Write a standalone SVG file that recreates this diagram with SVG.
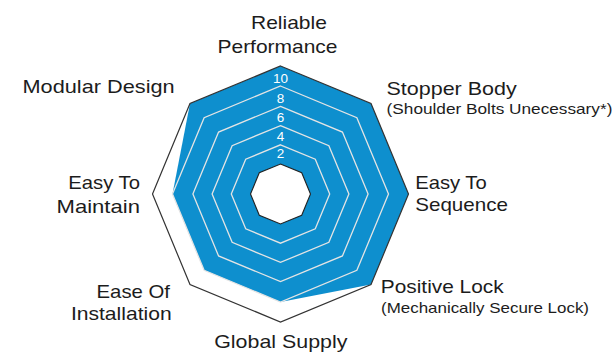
<svg xmlns="http://www.w3.org/2000/svg" width="614" height="354" viewBox="0 0 614 354">
<style>
.lbl{font-family:"Liberation Sans",Arial,sans-serif;font-size:19px;fill:#1c1c1c}
.sub{font-family:"Liberation Sans",Arial,sans-serif;font-size:14.5px;fill:#1c1c1c}
.num{font-family:"Liberation Sans",Arial,sans-serif;font-size:13.5px;fill:#ffffff;text-anchor:middle}
.ring{fill:none;stroke:#e4e4e4;stroke-width:1.3}
</style>
<rect width="614" height="354" fill="#ffffff"/>
<g id="chart">
<polygon id="data" fill="#0e8fce" points="280.5,66 371.01,103.49 408.5,194 371.01,284.51 280.5,302 204.13,270.37 172.5,194 189.99,103.49"/>
<polygon class="ring" points="280.5,144.8 315.29,159.21 329.7,194 315.29,228.79 280.5,243.2 245.71,228.79 231.3,194 245.71,159.21"/>
<polygon class="ring" points="280.5,125.6 328.87,145.63 348.9,194 328.87,242.37 280.5,262.4 232.13,242.37 212.1,194 232.13,145.63"/>
<polygon class="ring" points="280.5,106.4 342.44,132.06 368.1,194 342.44,255.94 280.5,281.6 218.56,255.94 192.9,194 218.56,132.06"/>
<polygon class="ring" points="280.5,86 356.87,117.63 388.5,194 356.87,270.37 280.5,302 204.13,270.37 172.5,194 204.13,117.63"/>
<polygon id="hole" fill="#ffffff" stroke="#222" stroke-width="1.1" points="280.5,164 301.71,172.79 310.5,194 301.71,215.21 280.5,224 259.29,215.21 250.5,194 259.29,172.79"/>
<polygon id="outer" fill="none" stroke="#333" stroke-width="1.2" points="280.5,66 371.01,103.49 408.5,194 371.01,284.51 280.5,322 189.99,284.51 152.5,194 189.99,103.49"/>
</g>
<g id="scale">
<text class="num" x="280.5" y="82.7">10</text>
<text class="num" x="280.5" y="103.3">8</text>
<text class="num" x="280.5" y="121.7">6</text>
<text class="num" x="280.5" y="141">4</text>
<text class="num" x="280.5" y="158.3">2</text>
</g>
<g id="reliable-performance">
<text class="lbl" x="251" y="28.5" textLength="75.8" lengthAdjust="spacingAndGlyphs">Reliable</text>
<text class="lbl" x="217.5" y="52.7" textLength="120" lengthAdjust="spacingAndGlyphs">Performance</text>
</g>
<g id="stopper-body">
<text class="lbl" x="386.5" y="94.8" textLength="130.2" lengthAdjust="spacingAndGlyphs">Stopper Body</text>
<text class="sub" x="386.6" y="114.3" textLength="225.8" lengthAdjust="spacingAndGlyphs">(Shoulder Bolts Unecessary*)</text>
</g>
<g id="easy-to-sequence">
<text class="lbl" x="415.2" y="189" textLength="71.5" lengthAdjust="spacingAndGlyphs">Easy To</text>
<text class="lbl" x="415.2" y="211.2" textLength="92.8" lengthAdjust="spacingAndGlyphs">Sequence</text>
</g>
<g id="positive-lock">
<text class="lbl" x="380.8" y="293.3" textLength="122.8" lengthAdjust="spacingAndGlyphs">Positive Lock</text>
<text class="sub" x="381" y="312.7" textLength="208" lengthAdjust="spacingAndGlyphs">(Mechanically Secure Lock)</text>
</g>
<g id="global-supply">
<text class="lbl" x="214.2" y="348.3" textLength="133.2" lengthAdjust="spacingAndGlyphs">Global Supply</text>
</g>
<g id="ease-of-installation">
<text class="lbl" x="96.5" y="298.3" textLength="73.5" lengthAdjust="spacingAndGlyphs">Ease Of</text>
<text class="lbl" x="70.9" y="320.3" textLength="100.8" lengthAdjust="spacingAndGlyphs">Installation</text>
</g>
<g id="easy-to-maintain">
<text class="lbl" x="68.2" y="188.5" textLength="71.8" lengthAdjust="spacingAndGlyphs">Easy To</text>
<text class="lbl" x="56.5" y="212.7" textLength="83.5" lengthAdjust="spacingAndGlyphs">Maintain</text>
</g>
<g id="modular-design">
<text class="lbl" x="22.5" y="92.6" textLength="152.2" lengthAdjust="spacingAndGlyphs">Modular Design</text>
</g>
</svg>
